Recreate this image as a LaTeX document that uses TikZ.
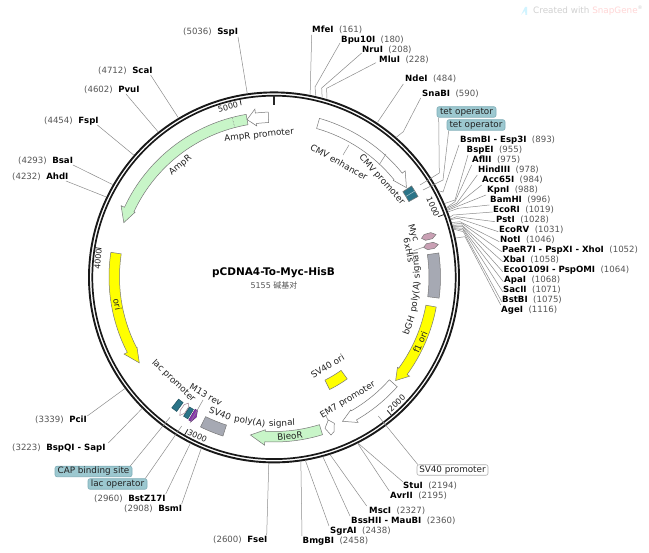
\documentclass[tikz,border=0pt]{standalone}
\usepackage{fontspec}
\setmainfont{DejaVu Sans}
\newfontfamily\cjkf{Noto Sans CJK SC}
\usetikzlibrary{calc}
\definecolor{lnk}{HTML}{8C8C8C}
\definecolor{edgeg}{HTML}{777777}
\definecolor{teal1}{HTML}{2B7488}
\definecolor{boxt}{HTML}{9CC8D0}
\definecolor{boxe}{HTML}{7FAEB8}
\definecolor{gr1}{HTML}{C8F5C8}
\definecolor{yel1}{HTML}{FFFF00}
\definecolor{grey1}{HTML}{A6A9B3}
\definecolor{pink1}{HTML}{C9A0B4}
\definecolor{purp1}{HTML}{8A35B0}
\definecolor{txt}{HTML}{222222}
\definecolor{nums}{HTML}{555555}
\newcommand\lfont{\fontsize{8.8}{10}\selectfont}
\newcommand\sfont{\fontsize{8.6}{10}\selectfont}
\tikzset{
  lead/.style={draw=lnk,line width=.5pt},
  sitelab/.style={anchor=west,inner sep=0pt,font=\sfont,text=black},
  feat/.style={draw=edgeg,line width=.5pt},
  lab/.style={inner sep=0pt,font=\lfont,text=txt},
  tagbox/.style={rounded corners=2pt,fill=boxt,draw=boxe,line width=.6pt,font=\lfont,text=txt,inner sep=0pt,minimum height=10.5pt},
}
\newcommand\siteR[5]{\node[sitelab] (#1) at (#2,-#3) {\textbf{#4}\hspace{5.5pt}{\color{nums}(#5)}};}
\newcommand\siteL[5]{\node[sitelab] (#1) at (#2,-#3) {{\color{nums}(#5)}\hspace{5.5pt}\textbf{#4}};}
\newcommand\rp[2]{\path (274,-277) ++({90-(#2)}:186) coordinate (#1);}
\newcommand\arrowfeat[8]{\draw[feat,#1] ({90-(#2)}:#6) arc[start angle={90-(#2)},end angle={90-(#3)},radius=#6] -- ({90-(#3)}:#8) -- ({90-(#4)}:{(#5+#6)/2}) -- ({90-(#3)}:#7) -- ({90-(#3)}:#5) arc[start angle={90-(#3)},end angle={90-(#2)},radius=#5] -- cycle;}
\newcommand\blockfeat[5]{\draw[feat,#1] ({90-(#2)}:#5) arc[start angle={90-(#2)},end angle={90-(#3)},radius=#5] -- ({90-(#3)}:#4) arc[start angle={90-(#3)},end angle={90-(#2)},radius=#4] -- cycle;}
% narrow hexagon: style, centre angle, half width in degrees
\newcommand\hexfeat[3]{\draw[feat,#1] ({90-(#2)-(#3)}:156) -- ({90-(#2)-(#3)}:163) -- ({90-(#2)}:167.5) -- ({90-(#2)+(#3)}:163) -- ({90-(#2)+(#3)}:156) -- ({90-(#2)}:152.5) -- cycle;}
% rotated labels: name, text, angle clockwise from top, centre radius
\newcommand\cwlab[4]{\node[lab] (#1) at ({90-(#3)}:#4) [rotate={-(#3)}] {#2};}
\newcommand\ccwlab[4]{\node[lab] (#1) at ({90-(#3)}:#4) [rotate={180-(#3)}] {#2};}
\begin{document}
\begin{tikzpicture}[x=1pt,y=1pt]
\useasboundingbox (0,0) rectangle (649,-553);
\fill[white] (0,0) rectangle (649,-553);

% watermark
\fill[blue!25!cyan!18] (521,-15) -- (525,-7) -- (527,-7) -- (527,-15) -- (525.5,-15) -- (525,-11) -- cycle;
\node[inner sep=0pt,anchor=west,font=\fontsize{8.8}{10}\selectfont,text=black!18] (wm) at (533,-11) {Created with {\color{red!16}SnapGene}\textsuperscript{\tiny ®}};

% ring
\node[circle,draw=black!90,line width=1.9pt,minimum size=370pt,inner sep=0pt] (ringout) at (274,-277.4) {};
\node[circle,draw=black!90,line width=1.7pt,minimum size=363.4pt,inner sep=0pt] (ringin) at (274,-277.4) {};

\begin{scope}[shift={(274,-277)}]
% ticks
\draw[line width=1.5pt,black!85] (90:172) -- (90:182);
\foreach \t in {69.83,139.67,209.5,279.33,349.17}{\draw[line width=.8pt,black!85] ({90-\t}:175) -- ({90-\t}:182);}
% features
\arrowfeat{fill=gr1}{350.3}{295}{289.9}{154.5}{165}{153.3}{168.7}
\draw[edgeg,densely dotted,line width=.5pt] ({90-345.3}:154.5) -- ({90-345.3}:165);
\arrowfeat{fill=white}{358}{353.5}{350.3}{154.5}{165}{152}{169}
\arrowfeat{fill=yel1}{278.6}{242.8}{237.5}{154.5}{165}{154}{168.6}
\arrowfeat{fill=white}{16}{51}{56}{154.5}{165}{153.5}{168.8}
\blockfeat{fill=teal1}{56.5}{60.8}{154.5}{165}
\draw[teal1!40!white,line width=.5pt] ({90-58.6}:155) -- ({90-58.6}:165);
\hexfeat{fill=pink1}{75.3}{1.1}
\hexfeat{fill=pink1}{78.8}{1.1}
\blockfeat{fill=grey1}{81.7}{97.3}{155}{166.5}
\arrowfeat{fill=yel1}{100.5}{126.2}{130.4}{154.5}{165}{153}{168}
\arrowfeat{fill=white}{131.7}{150}{154.6}{154.5}{165}{153.5}{168}
\blockfeat{fill=yel1}{144.3}{153.7}{115}{125.5}
\arrowfeat{fill=gr1}{162.9}{183.2}{188.5}{154.5}{165}{153}{168.5}
\blockfeat{fill=grey1}{197.8}{206.1}{155.5}{167}
\blockfeat{fill=teal1,draw=teal1!70!black}{215.9}{218}{155}{166}
\hexfeat{fill=white,draw=pink1!80!black}{214.2}{.9}
\blockfeat{fill=teal1,draw=teal1!70!black}{211.3}{213}{155}{166}
\arrowfeat{fill=purp1,draw=purp1!70!black}{210.8}{209.8}{209}{154}{166.5}{154}{166.5}
% feature labels
\cwlab{lampp}{AmpR promoter}{354}{142.3}
\cwlab{lamp}{AmpR}{320}{145.5}
\cwlab{lcmve}{CMV enhancer}{29.5}{132}
\cwlab{lcmvp}{CMV promoter}{48}{145}
\ccwlab{lbgha}{bGH}{109.8}{143}
\ccwlab{lbghb}{poly(A)}{98}{143}
\ccwlab{lbghc}{signal}{85.4}{143}
\ccwlab{lfone}{f1 ori}{114}{160}
\ccwlab{lem}{EM7 promoter}{149}{143.5}
\ccwlab{lsvo}{SV40 ori}{149}{104}
\ccwlab{lbleo}{BleoR}{174.3}{160}
\ccwlab{lsva}{SV40}{201.5}{147}
\ccwlab{lsvb}{poly(A)}{189.5}{147}
\ccwlab{lsvc}{signal}{176.9}{147}
\ccwlab{lm}{M13 rev}{210}{136}
\ccwlab{llac}{lac promoter}{224}{144.6}
\ccwlab{lori}{ori}{260}{159}
\end{scope}

\node[lab,rotate=-72.5] (myc) at (413,-233) {Myc};
\node[lab,rotate=-78.7] (his) at (409,-250) {6xHis};
\coordinate (hisend) at (413.5,-250.7);
\coordinate (hisbox) at (425,-246.7);
\draw[lead] (hisend) -- (hisbox);
\draw[lead] (349,-145) -- (343,-155);
\draw[lead] (386,-154) -- (379,-165);
\draw[lead] (203,-400) -- (190,-423);
\draw[lead] (326,-416) -- (328,-420);

% tick numbers
\node[lab,rotate=15,font=\fontsize{8}{9}\selectfont] (t5) at (228,-107) {5000};
\node[lab,rotate=-66,font=\fontsize{8}{9}\selectfont] (t1) at (433,-207) {1000};
\node[lab,rotate=44,font=\fontsize{8}{9}\selectfont] (t2) at (396.7,-403) {2000};
\node[lab,rotate=-25.8,font=\fontsize{8}{9}\selectfont] (t3) at (197.3,-436) {3000};
\node[lab,rotate=85,font=\fontsize{8}{9}\selectfont] (t4) at (98,-259) {4000};

% title
\node[inner sep=0pt,font=\fontsize{10.5}{12}\selectfont\bfseries] (title) at (273.5,-273) {pCDNA4-To-Myc-HisB};
\node[inner sep=0pt,font=\fontsize{8}{10}\selectfont,text=nums] (size) at (274,-285) {5155 {\cjkf 碱基对}};

% restriction sites
\siteR{mfe}{312}{30}{MfeI}{161}
\siteR{bpu}{341}{40}{Bpu10I}{180}
\siteR{nru}{362}{50}{NruI}{208}
\siteR{mlu}{379}{60}{MluI}{228}
\siteR{nde}{405}{79}{NdeI}{484}
\siteR{sna}{422}{94}{SnaBI}{590}
\siteR{bsm}{460}{140}{BsmBI - Esp3I}{893}
\siteR{bsp}{466.5}{150}{BspEI}{955}
\siteR{afl}{472}{160}{AflII}{975}
\siteR{hin}{478}{170}{HindIII}{978}
\siteR{acc}{482}{180}{Acc65I}{984}
\siteR{kpn}{487}{190}{KpnI}{988}
\siteR{bam}{490}{200}{BamHI}{996}
\siteR{ecr}{493}{210}{EcoRI}{1019}
\siteR{pst}{496}{220}{PstI}{1028}
\siteR{ecv}{499}{230}{EcoRV}{1031}
\siteR{not}{500}{240}{NotI}{1046}
\siteR{pae}{502}{250}{PaeR7I - PspXI - XhoI}{1052}
\siteR{xba}{503}{260}{XbaI}{1058}
\siteR{eco}{503.5}{270}{EcoO109I - PspOMI}{1064}
\siteR{apa}{504}{280}{ApaI}{1068}
\siteR{sac}{503}{290}{SacII}{1071}
\siteR{bst}{502}{300}{BstBI}{1075}
\siteR{age}{501}{310}{AgeI}{1116}
\siteR{stu}{403}{486}{StuI}{2194}
\siteR{avr}{390}{496}{AvrII}{2195}
\siteR{msc}{369}{511}{MscI}{2327}
\siteR{bss}{351}{521}{BssHII - MauBI}{2360}
\siteR{sgr}{330}{531}{SgrAI}{2438}
\siteR{bmg}{302.5}{541}{BmgBI}{2458}
\siteL{fse}{213}{540}{FseI}{2600}
\siteL{bsi}{124}{509}{BsmI}{2908}
\siteL{bz}{94}{499}{BstZ17I}{2960}
\siteL{bqi}{12}{448}{BspQI - SapI}{3223}
\siteL{pci}{35}{420}{PciI}{3339}
\siteL{ahd}{12}{177}{AhdI}{4232}
\siteL{bsa}{18}{161}{BsaI}{4293}
\siteL{fsp}{44}{121}{FspI}{4454}
\siteL{pvu}{84}{90}{PvuI}{4602}
\siteL{sca}{98}{71}{ScaI}{4712}
\siteL{ssp}{183}{32}{SspI}{5036}

% tag boxes
\node[tagbox,minimum width=59pt] (tet1) at (466.5,-112) {tet operator};
\node[tagbox,minimum width=58pt] (tet2) at (476,-125) {tet operator};
\node[tagbox,minimum width=77pt] (cap) at (93.5,-471.5) {CAP binding site};
\node[tagbox,minimum width=59pt] (laco) at (117.5,-484) {lac operator};
\node[tagbox,fill=white,draw=lnk!70,minimum width=71pt] (sv40p) at (452.5,-470) {SV40 promoter};

% ring coordinates
\rp{Rmfe}{11.2}\rp{Rbpu}{13}\rp{Rnru}{15}\rp{Rmlu}{16.5}\rp{Rnde}{33.8}\rp{Rsna}{41.2}
\rp{Rbsm}{62.4}\rp{Rbsp}{66.7}\rp{Rafl}{68.1}\rp{Rhin}{68.3}\rp{Racc}{68.7}\rp{Rkpn}{69}\rp{Rbam}{69.5}
\rp{Recr}{71.2}\rp{Rpst}{71.8}\rp{Recv}{72}\rp{Rnot}{73}\rp{Rpae}{73.5}\rp{Rxba}{73.9}\rp{Reco}{74.3}
\rp{Rapa}{74.6}\rp{Rsac}{74.8}\rp{Rbst}{75.1}\rp{Rage}{77.9}
\rp{Rstu}{153.2}\rp{Ravr}{153.3}\rp{Rmsc}{162.5}\rp{Rbss}{164.8}\rp{Rsgr}{170.3}\rp{Rbmg}{171.7}
\rp{Rfse}{181.6}\rp{Rbsi}{203}\rp{Rbz}{206.7}\rp{Rbqi}{225.1}\rp{Rpci}{233.2}
\rp{Rahd}{295.5}\rp{Rbsa}{299.8}\rp{Rfsp}{311}\rp{Rpvu}{321.4}\rp{Rsca}{329}\rp{Rssp}{351.7}

% leaders
\draw[lead] (311.7,-35) -- (Rmfe);
\draw[lead] (340,-43) -- (315,-87) -- (Rbpu);
\draw[lead] (361.7,-53) -- (321.7,-88) -- (Rnru);
\draw[lead] (376,-62.7) -- (326.7,-88.3) -- (Rmlu);
\draw[lead] (403.3,-84) -- (Rnde);
\draw[lead] (420.7,-98) -- (403.3,-131.7) -- (Rsna);
\draw[lead] ($(tet1.south west)+(2,0)$) -- (439.3,-173) -- (420,-185);
\draw[lead] ($(tet2.south west)+(2,0)$) -- (443,-180) -- (423,-190);
\draw[lead] (459,-145) -- (443,-192) -- (Rbsm);
\draw[lead] (468,-155) -- (455,-200) -- (Rbsp);
\draw[lead] (471.7,-165) -- (455,-201.7) -- (Rafl);
\draw[lead] (477.3,-175) -- (456.7,-203.3) -- (Rhin);
\draw[lead] (481.7,-185) -- (456.7,-205) -- (Racc);
\draw[lead] (486,-195) -- (456.7,-206.7) -- (Rkpn);
\draw[lead] (489.3,-205) -- (458.3,-208.3) -- (Rbam);
\draw[lead] (492.7,-212) -- (453.3,-215) -- (Recr);
\draw[lead] (495,-221.7) -- (456.7,-216.7) -- (Rpst);
\draw[lead] (498.3,-231.7) -- (458.3,-218.3) -- (Recv);
\draw[lead] (499.3,-241.7) -- (460,-221.7) -- (Rnot);
\draw[lead] (501.7,-251.7) -- (461.7,-223.3) -- (Rpae);
\draw[lead] (502.7,-261.7) -- (461.7,-225) -- (Rxba);
\draw[lead] (502.7,-271.7) -- (462.7,-226.7) -- (Reco);
\draw[lead] (503.3,-281.7) -- (462.7,-228.3) -- (Rapa);
\draw[lead] (502.7,-291.7) -- (463.3,-230) -- (Rsac);
\draw[lead] (501.7,-301.7) -- (463.3,-231.7) -- (Rbst);
\draw[lead] (500.7,-305) -- (465,-236.7) -- (Rage);
\draw[lead] (402.7,-481.7) -- (Rstu);
\draw[lead] (389.3,-491) -- (Ravr);
\draw[lead] (366.7,-506) -- (Rmsc);
\draw[lead] (350,-516) -- (Rbss);
\draw[lead] (329,-526) -- (Rsgr);
\draw[lead] (302,-536) -- (Rbmg);
\draw[lead] (266.7,-535) -- (Rfse);
\draw[lead] (181.7,-504) -- (Rbsi);
\draw[lead] (165.7,-494) -- (Rbz);
\draw[lead] (108.3,-443) -- (Rbqi);
\draw[lead] (87.3,-416) -- (Rpci);
\draw[lead] (66,-181) -- (Rahd);
\draw[lead] (73,-165) -- (Rbsa);
\draw[lead] (97.3,-125) -- (Rfsp);
\draw[lead] (126,-94) -- (Rpvu);
\draw[lead] (150.6,-75) -- (Rsca);
\draw[lead] (238,-37) -- (Rssp);
\draw[lead] ($(cap.north east)+(-2,0)$) -- (170,-417.3);
\draw[lead] ($(laco.north east)+(-2,0)$) -- (181.7,-426);
\draw[lead] ($(sv40p.north west)+(1,0)$) -- (378.3,-416);
% EM7 small arrow
\draw[feat,fill=white] (328.3,-420) -- (334.3,-423.3) -- (334,-431.7) -- (331,-435) -- (325,-428.3) -- cycle;
\end{tikzpicture}
\end{document}
